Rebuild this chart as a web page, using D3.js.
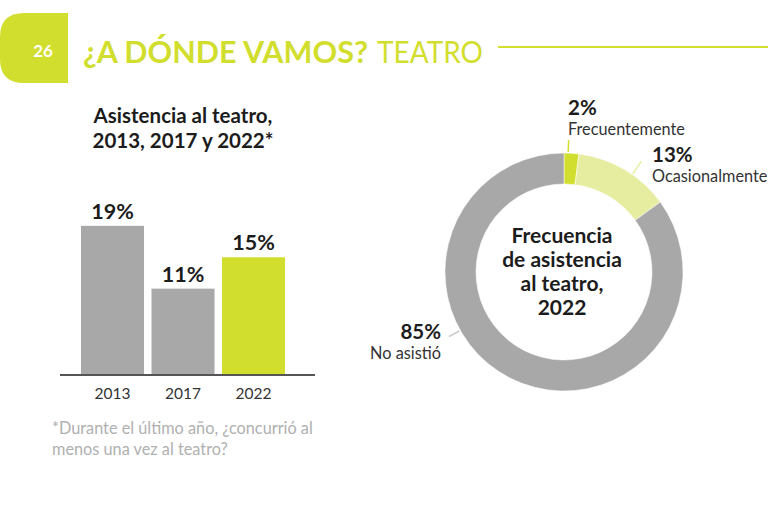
<!DOCTYPE html>
<html><head><meta charset="utf-8">
<script src="https://cdn.jsdelivr.net/npm/d3@7"></script>
<style>
html,body{margin:0;padding:0;background:#fff;}
svg{display:block;font-family:Lato,"Open Sans",sans-serif;}
</style></head>
<body>
<svg id="c" width="768" height="512"></svg>
<script>
// ---- data ----
const years = ["2013", "2017", "2022"];
const attendance = [19, 11, 15];
const barLabels = ["19%", "11%", "15%"];
const freqCategories = ["Frecuentemente", "Ocasionalmente", "No asistió"];
const freqValues = [2, 13, 85];
const freqLabels = ["2%", "13%", "85%"];

const LIME = "#d2de2e", PALE = "#e7eda0", GRAY = "#a8a8a8", TXT = "#1c1c1c";

const svg = d3.select("#c");

// ---- header ----
svg.append("path")
  .attr("d", "M68,13 L24,13 Q0,13 0,37 L0,59 Q0,83 24,83 L68,83 Z")
  .attr("fill", LIME);
svg.append("text").attr("x", 43).attr("y", 57).attr("text-anchor", "middle")
  .attr("fill", "#fff").attr("font-size", 17).attr("font-weight", 700).text("26");
svg.append("text").attr("x", 83).attr("y", 63)
  .attr("fill", LIME).attr("font-size", 30).attr("font-weight", 700)
  .attr("textLength", 285).attr("lengthAdjust", "spacingAndGlyphs")
  .text("¿A DÓNDE VAMOS?");
svg.append("text").attr("x", 377).attr("y", 63)
  .attr("fill", LIME).attr("font-size", 30).attr("font-weight", 400)
  .attr("textLength", 106).attr("lengthAdjust", "spacingAndGlyphs")
  .text("TEATRO");
svg.append("line").attr("x1", 498).attr("x2", 768).attr("y1", 47).attr("y2", 47)
  .attr("stroke", LIME).attr("stroke-width", 2);

// ---- bar chart ----
const bt = svg.append("text").attr("text-anchor", "middle").attr("fill", TXT)
  .attr("font-size", 20.5).attr("font-weight", 700);
bt.append("tspan").attr("x", 183).attr("y", 123).text("Asistencia al teatro,");
bt.append("tspan").attr("x", 183).attr("y", 148).text("2013, 2017 y 2022*");

const x = d3.scaleBand().domain(years).range([81, 285]).paddingInner(0.106).paddingOuter(0);
const y = d3.scaleLinear().domain([0, 20]).range([375, 218]);

svg.selectAll("rect.bar").data(years).join("rect").attr("class", "bar")
  .attr("x", d => x(d)).attr("width", x.bandwidth())
  .attr("y", (d, i) => y(attendance[i]))
  .attr("height", (d, i) => y(0) - y(attendance[i]))
  .attr("fill", (d, i) => i === 2 ? LIME : GRAY);

svg.selectAll("text.val").data(years).join("text").attr("class", "val")
  .attr("x", d => x(d) + x.bandwidth() / 2)
  .attr("y", (d, i) => y(attendance[i]) - 7)
  .attr("text-anchor", "middle").attr("fill", TXT)
  .attr("font-size", 21.5).attr("font-weight", 700)
  .text((d, i) => barLabels[i]);

svg.append("line").attr("x1", 60).attr("x2", 315).attr("y1", y(0)).attr("y2", y(0))
  .attr("stroke", "#555").attr("stroke-width", 2);

const xAxis = svg.append("g").attr("transform", `translate(0,${y(0)})`)
  .call(d3.axisBottom(x).tickSize(0).tickPadding(13));
xAxis.select(".domain").remove();
xAxis.selectAll("text").attr("font-size", 15.5).attr("fill", "#333")
  .attr("font-family", "Lato, 'Open Sans', sans-serif");

const fn = svg.append("text").attr("fill", "#b0b0b0").attr("font-size", 16.3);
fn.append("tspan").attr("x", 52).attr("y", 434).text("*Durante el último año, ¿concurrió al");
fn.append("tspan").attr("x", 52).attr("y", 455).text("menos una vez al teatro?");

// ---- donut ----
const cx = 564, cy = 272, R = 119, r0 = 88;
const g = svg.append("g").attr("transform", `translate(${cx},${cy})`);
const pie = d3.pie().sort(null).value(d => d)(freqValues);
const arc = d3.arc().innerRadius(r0).outerRadius(R);
const colors = [LIME, PALE, GRAY];
const leaderColors = [LIME, PALE, "#c8c8c8"];
g.selectAll("path").data(pie).join("path")
  .attr("d", arc).attr("fill", (d, i) => colors[i])
  .attr("stroke", "#fff").attr("stroke-width", 0.5);

// leader lines (angles in radians, clockwise from 12 o'clock)
const leaderAngles = [0.035, 0.61, 4.2];
const leaderLen = [12, 15, 12];
const pt = (a, rad) => [Math.sin(a) * rad, -Math.cos(a) * rad];
g.selectAll("line.lead").data(leaderAngles).join("line").attr("class", "lead")
  .attr("x1", a => pt(a, R + 1)[0]).attr("y1", a => pt(a, R + 1)[1])
  .attr("x2", (a, i) => pt(a, R + 1 + leaderLen[i])[0])
  .attr("y2", (a, i) => pt(a, R + 1 + leaderLen[i])[1])
  .attr("stroke", (a, i) => leaderColors[i]).attr("stroke-width", 1.5);

// slice labels
const labelPos = [
  {x: 568, y: 115, anchor: "start"},
  {x: 652, y: 162, anchor: "start"},
  {x: 441, y: 339, anchor: "end"}
];
freqLabels.forEach((lab, i) => {
  const p = labelPos[i];
  svg.append("text").attr("x", p.x).attr("y", p.y).attr("text-anchor", p.anchor)
    .attr("fill", TXT).attr("font-size", 20.5).attr("font-weight", 700).text(lab);
  svg.append("text").attr("x", p.x).attr("y", p.y + 20).attr("text-anchor", p.anchor)
    .attr("fill", "#333").attr("font-size", 16.3).text(freqCategories[i]);
});

const ct = svg.append("text").attr("text-anchor", "middle").attr("fill", TXT)
  .attr("font-size", 21).attr("font-weight", 700);
["Frecuencia", "de asistencia", "al teatro,", "2022"].forEach((t, i) => {
  ct.append("tspan").attr("x", 562).attr("y", 243 + i * 24).text(t);
});
</script>
</body></html>
